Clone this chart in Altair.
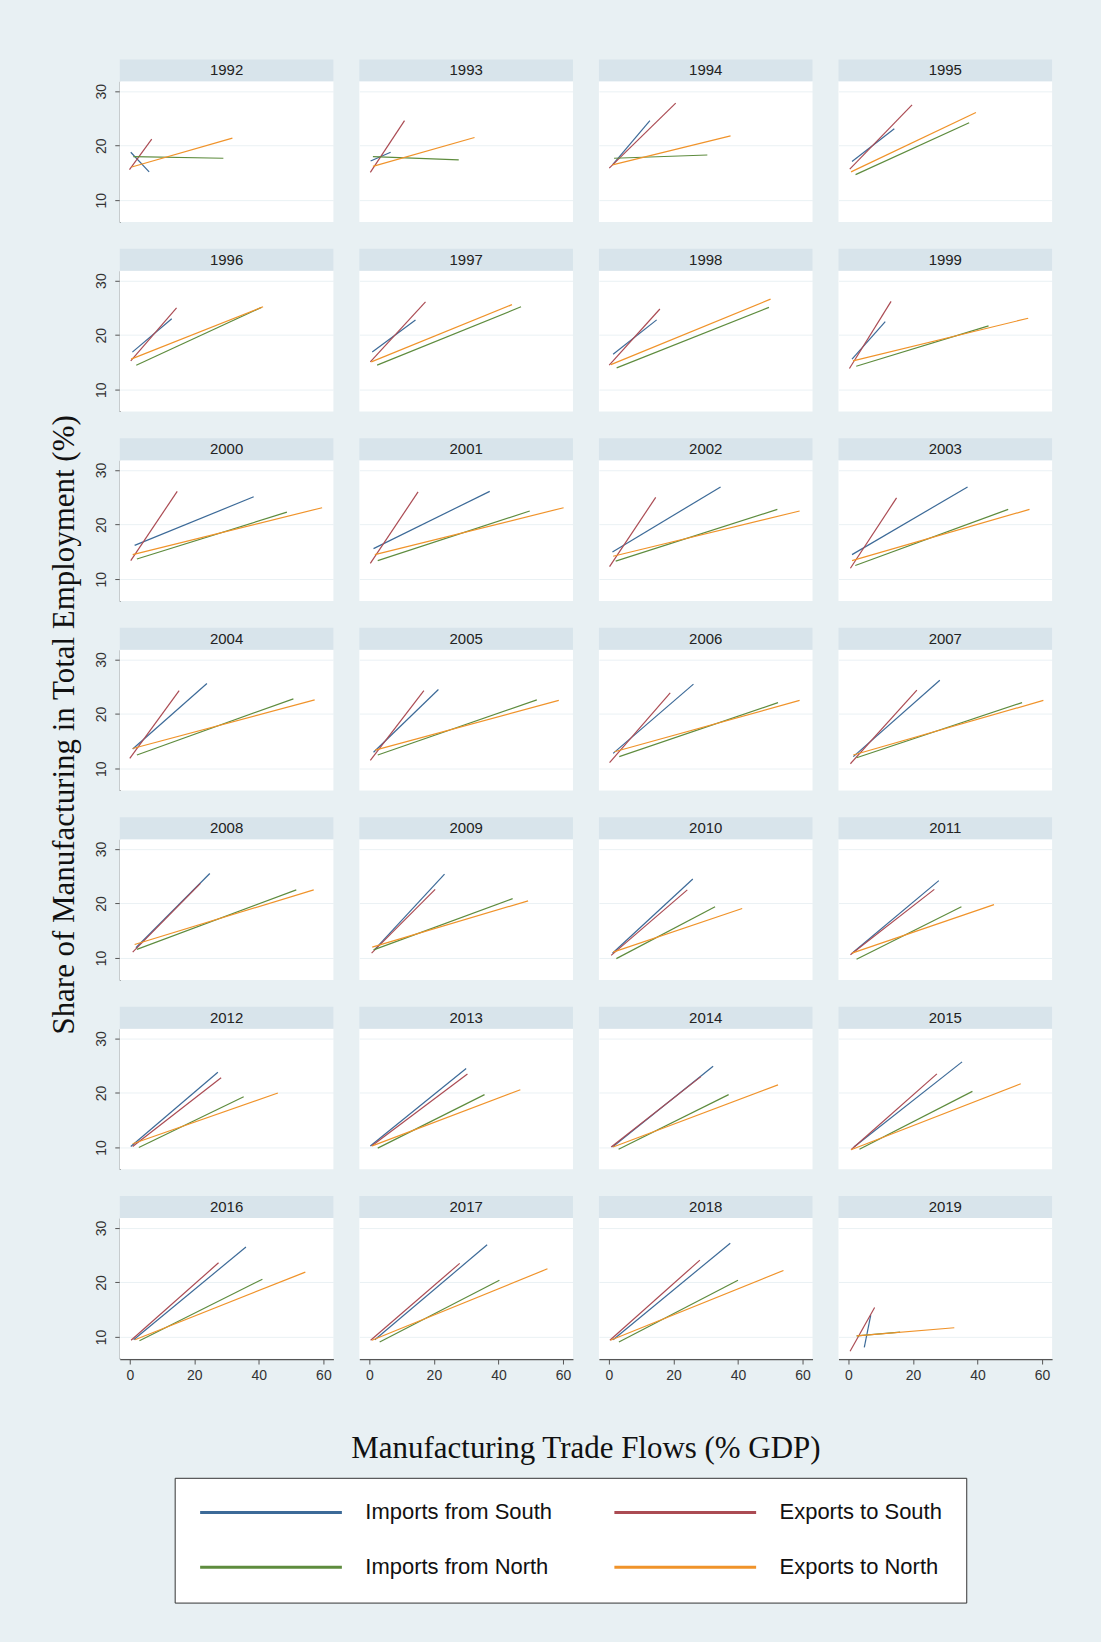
import altair as alt
import pandas as pd

years = list(range(1992, 2020))
series = ["Imports from South", "Imports from North", "Exports to South", "Exports to North"]
colors = ["#3C6A98", "#5E8C3E", "#AB4B53", "#F0932A"]

# Fitted-line endpoints per year (x: trade flow, % GDP; y: manufacturing share, %)
imp_south_x0 = [0.3, 0.4, 1.1, 1.1, 0.8, 0.9, 1.3, 1.1, 1.5, 1.3, 1.1, 1.1, 0.9, 1.3,
                1.3, 1.5, 1.9, 1.7, 1.1, 1.1, 0.3, 0.3, 1.1, 1.7, 1.2, 1.7, 1.3, 4.9]
imp_south_y0 = [18.8, 17.2, 16.5, 17.1, 16.9, 16.9, 16.5, 15.6, 16.2, 15.6, 15.0, 14.5, 13.6, 13.0,
                12.8, 12.2, 11.9, 11.6, 10.9, 10.9, 10.2, 10.3, 10.1, 10.1, 9.5, 9.5, 9.5, 8.1]
imp_south_x1 = [6.0, 6.6, 12.7, 14.2, 13.0, 14.3, 14.8, 11.4, 38.4, 37.3, 34.6, 36.9, 23.9, 21.4,
                26.2, 28.3, 24.8, 23.3, 26.0, 28.0, 27.3, 30.0, 32.3, 35.2, 36.0, 36.5, 37.6, 6.9]
imp_south_y1 = [15.2, 18.8, 24.6, 23.1, 23.0, 22.8, 22.8, 22.5, 25.1, 26.1, 26.9, 26.9, 25.6, 24.5,
                25.5, 26.2, 25.5, 25.4, 24.5, 24.2, 23.8, 24.5, 24.9, 25.7, 26.5, 26.9, 27.2, 14.0]

exp_south_x0 = [-0.1, 0.3, 0.1, 0.4, 0.3, 0.3, 0.1, 0.3, 0.3, 0.3, 0.2, 0.6, 0.0, 0.3,
                0.2, 0.6, 0.9, 0.7, 0.7, 0.6, 0.9, 0.7, 0.7, 0.8, 0.4, 0.4, 0.3, 0.5]
exp_south_y0 = [15.6, 15.1, 15.9, 15.7, 15.3, 15.1, 14.5, 13.9, 13.4, 12.9, 12.3, 12.0, 11.9, 11.5,
                11.1, 10.9, 11.1, 10.9, 10.5, 10.6, 10.2, 10.3, 10.1, 9.6, 9.4, 9.4, 9.4, 7.4]
exp_south_x1 = [6.8, 10.9, 20.7, 19.7, 14.5, 17.4, 15.8, 13.2, 14.7, 15.1, 14.5, 14.9, 15.3, 16.9,
                19.0, 21.2, 21.9, 20.4, 24.3, 26.6, 28.3, 30.4, 28.5, 27.4, 27.5, 28.0, 28.2, 8.1]
exp_south_y1 = [21.2, 24.6, 27.8, 27.5, 25.0, 26.1, 24.8, 26.2, 26.1, 26.0, 25.0, 24.9, 24.3, 24.3,
                23.9, 24.4, 23.7, 22.6, 22.5, 22.6, 22.8, 23.5, 23.0, 23.5, 23.6, 23.5, 24.1, 15.4]

imp_north_x0 = [1.1, 1.1, 1.6, 2.2, 2.0, 2.4, 2.4, 2.4, 2.2, 2.6, 2.1, 2.1, 2.2, 2.6,
                3.2, 2.5, 2.2, 1.3, 2.3, 2.5, 2.8, 2.6, 3.0, 3.4, 3.0, 3.2, 3.1, 2.5]
imp_north_y0 = [18.0, 18.0, 17.7, 14.7, 14.5, 14.5, 14.0, 14.3, 13.7, 13.4, 13.3, 12.5, 12.5, 12.5,
                12.2, 12.0, 11.6, 11.5, 9.9, 9.8, 10.0, 9.9, 9.7, 9.7, 9.3, 9.1, 9.1, 10.2]
imp_north_x1 = [29.0, 27.7, 30.5, 37.4, 40.8, 47.0, 49.6, 43.4, 48.7, 49.7, 52.2, 49.5, 50.7, 51.9,
                52.4, 53.8, 51.6, 44.4, 32.9, 35.0, 35.3, 35.7, 37.1, 38.4, 41.1, 40.3, 40.0, 16.0]
imp_north_y1 = [17.7, 17.4, 18.3, 24.2, 25.1, 25.2, 25.1, 21.7, 22.3, 22.5, 22.8, 22.8, 22.8, 22.6,
                22.1, 22.1, 22.5, 20.9, 19.4, 19.4, 19.3, 19.7, 19.7, 20.3, 20.6, 20.4, 20.4, 10.9]

exp_north_x0 = [0.6, 1.1, 1.1, 0.8, 0.4, 0.6, 0.6, 1.4, 0.9, 1.7, 1.3, 1.1, 0.9, 1.8,
                1.7, 1.5, 1.5, 0.9, 1.3, 1.1, 0.9, 0.9, 1.3, 0.8, 1.6, 0.8, 0.5, 2.6]
exp_north_y0 = [16.1, 16.2, 16.5, 15.2, 15.6, 15.1, 14.6, 15.3, 14.5, 14.5, 14.2, 13.4, 13.7, 13.4,
                13.1, 12.5, 12.5, 12.0, 11.1, 10.9, 10.7, 10.3, 10.1, 9.6, 9.5, 9.4, 9.4, 10.2]
exp_north_x1 = [31.8, 32.6, 37.7, 39.5, 41.3, 44.2, 50.1, 55.7, 59.6, 60.2, 59.1, 56.1, 57.3, 58.7,
                59.1, 60.4, 57.0, 49.2, 41.3, 45.1, 45.9, 46.8, 52.4, 53.4, 54.4, 55.2, 54.1, 32.8]
exp_north_y1 = [21.4, 21.5, 21.8, 26.1, 25.2, 25.6, 26.6, 23.1, 23.1, 23.1, 22.5, 22.8, 22.6, 22.5,
                22.5, 22.5, 22.5, 20.5, 19.1, 19.8, 20.0, 20.6, 21.5, 21.7, 21.9, 22.5, 22.2, 11.7]

x_ticks = [0, 20, 40, 60]
y_ticks = [10, 20, 30]

x_title = "Manufacturing Trade Flows (% GDP)"
y_title = "Share of Manufacturing in Total Employment (%)"

endpoints = {
    "Imports from South": (imp_south_x0, imp_south_y0, imp_south_x1, imp_south_y1),
    "Exports to South": (exp_south_x0, exp_south_y0, exp_south_x1, exp_south_y1),
    "Imports from North": (imp_north_x0, imp_north_y0, imp_north_x1, imp_north_y1),
    "Exports to North": (exp_north_x0, exp_north_y0, exp_north_x1, exp_north_y1),
}
draw_order = ["Imports from South", "Exports to South", "Imports from North", "Exports to North"]

records = []
for k, name in enumerate(draw_order):
    x0, y0, x1, y1 = endpoints[name]
    for i, yr in enumerate(years):
        records.append({"year": yr, "series": name, "z": k, "end": 0, "x": x0[i], "y": y0[i]})
        records.append({"year": yr, "series": name, "z": k, "end": 1, "x": x1[i], "y": y1[i]})
df = pd.DataFrame(records)

W, H, BAND = 214, 141, 22
SANS = "Liberation Sans"
SERIF = "Liberation Serif"

# grey-blue strip above each panel holding the year
band = (
    alt.Chart()
    .transform_aggregate(n="count()", groupby=["year"])
    .mark_rect(color="#D8E4EB")
    .encode(x=alt.value(0), x2=alt.value(W), y=alt.value(-BAND), y2=alt.value(0))
)
year_label = (
    alt.Chart()
    .transform_aggregate(n="count()", groupby=["year"])
    .mark_text(font=SANS, fontSize=15, color="#222222", baseline="middle", align="center")
    .encode(text="year:N", x=alt.value(W / 2), y=alt.value(-BAND / 2))
)

lines = (
    alt.Chart()
    .mark_line(strokeWidth=1.2)
    .encode(
        x=alt.X(
            "x:Q",
            scale=alt.Scale(domain=[-3.1, 63.1], nice=False, zero=False),
            axis=alt.Axis(values=x_ticks, title=None, grid=False, labelPadding=5),
        ),
        y=alt.Y(
            "y:Q",
            scale=alt.Scale(domain=[6, 31.8], nice=False, zero=False),
            axis=alt.Axis(
                values=y_ticks, title=None, grid=True, labelAngle=270,
                labelAlign="center", labelBaseline="bottom", labelPadding=6,
            ),
        ),
        color=alt.Color(
            "series:N",
            scale=alt.Scale(domain=series, range=colors),
            sort=series,
            legend=alt.Legend(
                title=None, orient="none", legendX=55, legendY=1399,
                columns=2, symbolType="stroke", symbolSize=142 * 142,
                symbolStrokeWidth=3, clipHeight=21, labelFont=SANS,
                labelFontSize=22, labelColor="#111111", labelOffset=22,
                labelLimit=400, columnPadding=60, rowPadding=32, padding=24,
                strokeColor="#333333", fillColor="white",
            ),
        ),
        detail="z:O",
        order="end:O",
    )
)

panel = alt.layer(band, year_label, lines).properties(width=W, height=H)

chart = (
    panel.facet(
        data=df,
        facet=alt.Facet(
            "year:N",
            header=alt.Header(
                labelExpr="''", labelFontSize=1, labelPadding=0,
                title=x_title, titleOrient="bottom", titleFont=SERIF,
                titleFontSize=31, titleFontWeight="normal", titleColor="#111111",
                titlePadding=51,
            ),
        ),
        columns=4,
        spacing={"row": 25.8, "column": 26},
    )
    .properties(
        title=alt.TitleParams(
            y_title, orient="left", anchor="middle", font=SERIF, fontSize=31,
            fontWeight="normal", color="#111111", offset=14, dx=106,
        )
    )
    .configure(background="#E8F0F3", padding={"left": 48, "top": 57, "right": 49, "bottom": 42})
    .configure_view(fill="white", stroke=None)
    .configure_axis(
        domainColor="#555555", domainWidth=1.2, tickColor="#555555", tickSize=5,
        labelFont=SANS, labelFontSize=14, labelColor="#333333",
        gridColor="#EAF1F4", gridWidth=1,
    )
)

chart.save("out.html", embed_options={"renderer": "svg", "actions": False})
